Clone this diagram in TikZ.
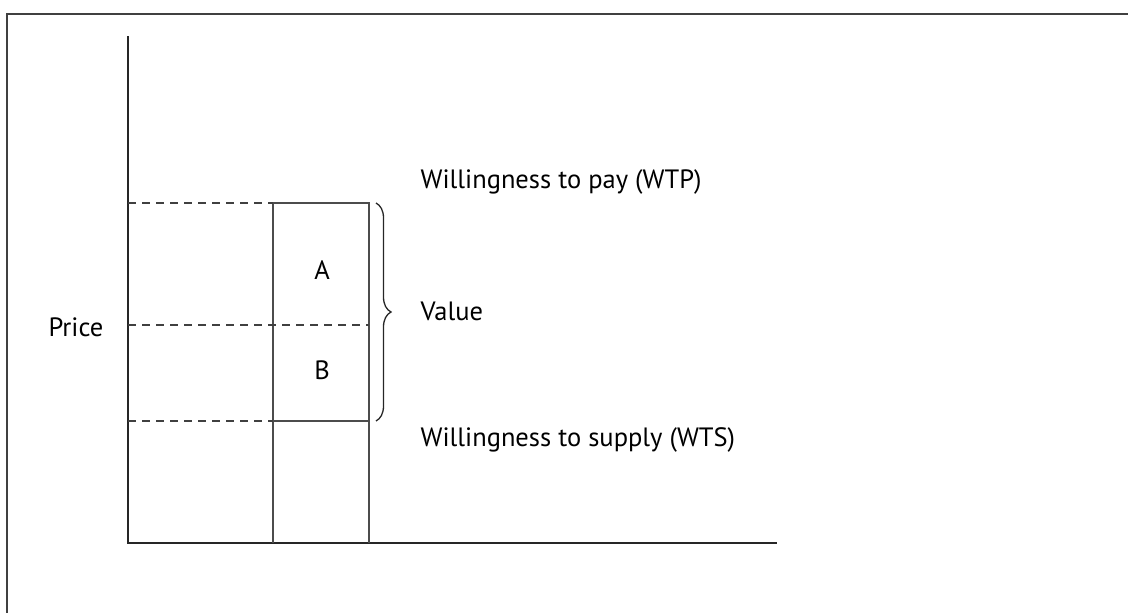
\documentclass[tikz,border=0pt]{standalone}
\usepackage{fontspec}
\setmainfont{PT Sans}
\usetikzlibrary{decorations.pathreplacing,positioning}

\begin{document}
\begin{tikzpicture}[x=1pt,
            y=-1pt,
            line width=1.3pt,
            frame/.style={draw=black!75, line width=2pt},
            axis/.style={draw=black!85},
            bar/.style={draw=black!70},
            guide/.style={draw=black!75, dash pattern=on 8pt off 6pt},
            curly/.style={draw=black!85, decorate,
                          decoration={brace, amplitude=15pt}},
            lbl/.style={font=\fontsize{26.5}{30}\selectfont, inner sep=0pt}]

        \useasboundingbox (0,0) rectangle (1128,613);

        % frame of the figure
        \draw[frame] (7,613) -- (7,14) -- (1128,14);

        % corner points
        \coordinate (o)    at (128,543);
        \coordinate (ytop) at (128,36);
        \coordinate (xend) at (777,543);
        \coordinate (wtp0) at (128,203);
        \coordinate (wtpL) at (273,203);
        \coordinate (wtpR) at (369,203);
        \coordinate (p0)   at (128,325);
        \coordinate (pR)   at (369,325);
        \coordinate (wts0) at (128,421);
        \coordinate (wtsL) at (273,421);
        \coordinate (wtsR) at (369,421);
        \coordinate (bL)   at (273,543);
        \coordinate (bR)   at (369,543);

        % axes
        \draw[axis] (ytop) -- (o) -- (xend);

        % bar
        \draw[bar] (bL) -- (wtpL) -- (wtpR) -- (bR);
        \draw[bar] (wtsL) -- (wtsR);

        % price levels
        \draw[guide] (wtp0) -- (wtpL);
        \draw[guide] (p0)   -- (pR);
        \draw[guide] (wts0) -- (wtsL);

        % value brace
        \draw[curly] (376,203) -- (376,421) coordinate[pos=0.5] (mid);

        % labels
        \node[lbl]             (A)     at (322,270) {A};
        \node[lbl]             (B)     at (322,370) {B};
        \node[lbl,anchor=east] (price) at (104,327) {Price};
        \node[lbl,anchor=west] (val)   at (420,311) {Value};
        \node[lbl,anchor=west] (pay)   at (420,182) {Willingness to pay (WTP)};
        \node[lbl,anchor=west] (sup)   at (420,440) {Willingness to supply (WTS)};

    \end{tikzpicture}
\end{document}
